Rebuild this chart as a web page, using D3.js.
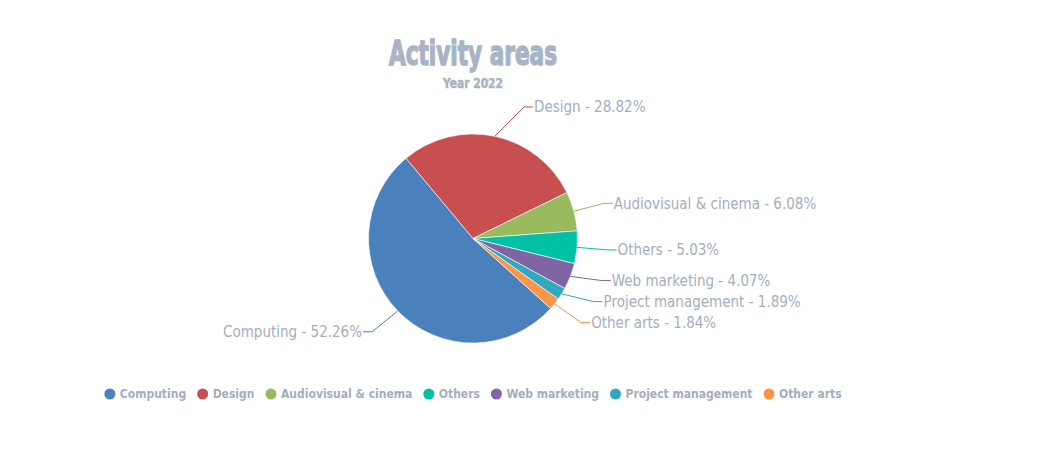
<!DOCTYPE html>
<html>
<head>
<meta charset="utf-8">
<script src="https://cdn.jsdelivr.net/npm/d3@7"></script>
<style>
  body { margin: 0; background: #fff; }
</style>
</head>
<body>
<svg id="chart"></svg>
<script>
// chart data
const categories = ["Computing", "Design", "Audiovisual & cinema", "Others", "Web marketing", "Project management", "Other arts"];
const shares = [52.26, 28.82, 6.08, 5.03, 4.07, 1.89, 1.84];
const colors = ["#4a80bb", "#c84f4f", "#99bb5e", "#00c0a6", "#8164a3", "#2fa9bf", "#f99549"];
const titleText = "Activity areas";
const subtitleText = "Year 2022";

const svgWidth = 1056, svgHeight = 465;
const cx = 473, cy = 238.5, radius = 104.5;
const textColor = "#a3aebd";

let svg = d3.select("#chart")
    .attr("width", svgWidth)
    .attr("height", svgHeight);

// titles (stroke thickens the condensed bold face)
svg.append("text")
    .attr("x", cx)
    .attr("y", 65)
    .attr("text-anchor", "middle")
    .attr("fill", "#a8b4c4")
    .attr("stroke", "#a8b4c4")
    .attr("stroke-width", 1.4)
    .style("font-family", "'DejaVu Sans Condensed', 'Liberation Sans Narrow', sans-serif")
    .style("font-weight", "bold")
    .style("font-size", "33px")
    .attr("textLength", 168)
    .attr("lengthAdjust", "spacingAndGlyphs")
    .text(titleText);

svg.append("text")
    .attr("x", cx)
    .attr("y", 88)
    .attr("text-anchor", "middle")
    .attr("fill", "#a8b4c4")
    .attr("stroke", "#a8b4c4")
    .attr("stroke-width", 0.5)
    .style("font-family", "'DejaVu Sans Condensed', 'Liberation Sans Narrow', sans-serif")
    .style("font-weight", "bold")
    .style("font-size", "14px")
    .attr("textLength", 60)
    .attr("lengthAdjust", "spacingAndGlyphs")
    .text(subtitleText);

let data = categories.map(function(name, i) {
    return { name: name, value: shares[i], color: colors[i] };
});

let pie = d3.pie()
    .sort(null)
    .value(function(d) { return d.value; })
    .startAngle(132 * Math.PI / 180)
    .endAngle(132 * Math.PI / 180 + 2 * Math.PI);

let arc = d3.arc().innerRadius(0).outerRadius(radius);
let arcs = pie(data);

let g = svg.append("g").attr("transform", "translate(" + cx + "," + cy + ")");

g.selectAll("path.slice")
    .data(arcs)
    .enter().append("path")
    .attr("class", "slice")
    .attr("d", arc)
    .attr("fill", function(d) { return d.data.color; })
    .attr("stroke", "#ffffff")
    .attr("stroke-width", 0.6);

// label layout: natural positions, then push apart on each side
let distance = 30, labelRadius = 145, minGap = 21;
let labels = arcs.map(function(d) {
    let a = (d.startAngle + d.endAngle) / 2;
    return {
        d: d,
        angle: a,
        right: Math.sin(a) >= 0,
        y: -Math.cos(a) * (radius + distance)
    };
});

["right", "left"].forEach(function(side) {
    let list = labels.filter(function(l) { return side === "right" ? l.right : !l.right; })
        .sort(function(a, b) { return a.y - b.y; });
    for (let i = list.length - 2; i >= 0; i--) {
        if (list[i].y > list[i + 1].y - minGap) list[i].y = list[i + 1].y - minGap;
    }
});

labels.forEach(function(l) {
    let dx = Math.sqrt(Math.max(0, labelRadius * labelRadius - l.y * l.y));
    l.x = l.right ? dx : -dx;
    l.edgeX = Math.sin(l.angle) * radius;
    l.edgeY = -Math.cos(l.angle) * radius;
});

g.selectAll("path.connector")
    .data(labels)
    .enter().append("path")
    .attr("class", "connector")
    .attr("fill", "none")
    .attr("stroke", function(l) { return l.d.data.color; })
    .attr("stroke-width", 1)
    .attr("d", function(l) {
        let s = l.right ? 1 : -1;
        return "M" + l.edgeX + "," + l.edgeY +
            "L" + (l.x - s * 10) + "," + l.y +
            "L" + (l.x - s * 1) + "," + l.y;
    });

g.selectAll("text.label")
    .data(labels)
    .enter().append("text")
    .attr("class", "label")
    .attr("x", function(l) { return l.x; })
    .attr("y", function(l) { return l.y; })
    .attr("dy", "0.35em")
    .attr("text-anchor", function(l) { return l.right ? "start" : "end"; })
    .attr("fill", textColor)
    .style("font-family", "'DejaVu Sans Condensed', 'DejaVu Sans', sans-serif")
    .style("font-size", "15px")
    .text(function(l) { return l.d.data.name + " - " + d3.format(".2f")(l.d.data.value) + "%"; });

// legend
let legend = svg.append("g");
let itemDistance = 11, symbolR = 5.5, textGap = 4.5;
let offset = 0;
data.forEach(function(d) {
    let item = legend.append("g");
    item.append("circle")
        .attr("cx", symbolR)
        .attr("cy", 0)
        .attr("r", symbolR)
        .attr("fill", d.color);
    let t = item.append("text")
        .attr("x", symbolR * 2 + textGap)
        .attr("y", 0)
        .attr("dy", "0.35em")
        .attr("fill", textColor)
        .style("font-family", "'DejaVu Sans Condensed', 'DejaVu Sans', sans-serif")
        .style("font-weight", "bold")
        .style("font-size", "12px")
        .text(d.name);
    let w = symbolR * 2 + textGap + t.node().getComputedTextLength();
    item.attr("transform", "translate(" + offset + ",0)");
    offset += w + itemDistance;
});
let legendWidth = offset - itemDistance;
legend.attr("transform", "translate(" + (cx - legendWidth / 2) + ",394)");
</script>
</body>
</html>
